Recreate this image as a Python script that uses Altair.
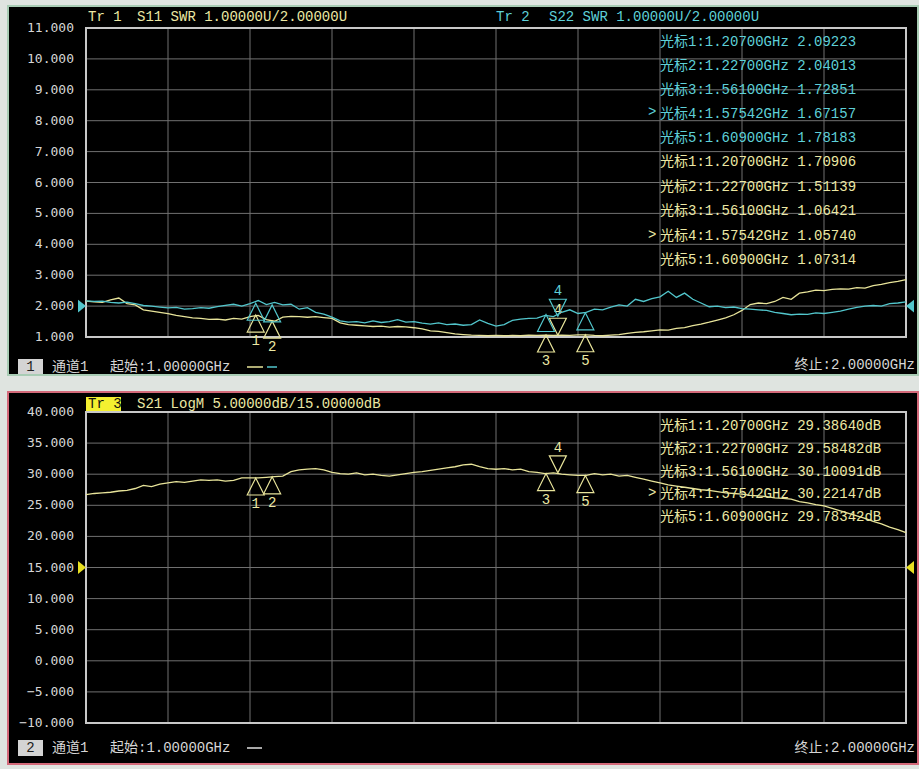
import altair as alt
import pandas as pd

# ---------------- data ----------------
freq = [round(1.0 + 0.01 * i, 2) for i in range(101)]  # sweep points, GHz

s22_swr = [2.17, 2.15, 2.16, 2.12, 2.10, 2.13, 2.08, 2.02, 2.00, 1.97,
           1.94, 1.96, 1.90, 1.92, 1.95, 1.93, 1.98, 2.02, 2.06, 2.00,
           2.08, 2.18, 2.05, 2.12, 2.04, 2.06, 1.90, 1.95, 1.80, 1.74,
           1.64, 1.52, 1.48, 1.50, 1.46, 1.52, 1.47, 1.50, 1.56, 1.48,
           1.50, 1.45, 1.42, 1.46, 1.40, 1.42, 1.38, 1.40, 1.55, 1.44,
           1.35, 1.40, 1.54, 1.58, 1.60, 1.61, 1.70, 1.66, 1.80, 1.88,
           1.76, 1.80, 1.90, 1.88, 1.97, 2.04, 2.00, 2.22, 2.15, 2.24,
           2.30, 2.48, 2.28, 2.42, 2.22, 2.10, 1.98, 2.00, 1.95, 1.97,
           1.92, 1.90, 1.88, 1.86, 1.80, 1.76, 1.72, 1.74, 1.73, 1.78,
           1.76, 1.80, 1.84, 1.90, 1.96, 2.00, 2.02, 2.00, 2.08, 2.10,
           2.14]

s11_swr = [2.16, 2.14, 2.12, 2.20, 2.26, 2.08, 2.04, 1.88, 1.84, 1.80,
           1.76, 1.70, 1.66, 1.62, 1.60, 1.57, 1.58, 1.55, 1.60, 1.58,
           1.66, 1.70, 1.56, 1.51, 1.64, 1.67, 1.66, 1.64, 1.66, 1.63,
           1.60, 1.46, 1.40, 1.38, 1.36, 1.34, 1.35, 1.32, 1.34, 1.33,
           1.30, 1.26, 1.20, 1.18, 1.14, 1.10, 1.08, 1.06, 1.05, 1.04,
           1.05, 1.04, 1.05, 1.04, 1.06, 1.05, 1.06, 1.05, 1.06, 1.05,
           1.07, 1.07, 1.05, 1.04, 1.06, 1.08, 1.12, 1.15, 1.17, 1.20,
           1.23, 1.22, 1.28, 1.30, 1.37, 1.42, 1.48, 1.55, 1.62, 1.72,
           1.86, 2.05, 2.10, 2.08, 2.15, 2.28, 2.22, 2.42, 2.46, 2.52,
           2.50, 2.54, 2.56, 2.55, 2.60, 2.58, 2.66, 2.70, 2.76, 2.80,
           2.86]

s21_db = [26.7, 26.9, 27.0, 27.1, 27.3, 27.4, 27.7, 28.2, 28.0, 28.4,
          28.6, 28.8, 28.7, 28.9, 29.1, 29.0, 29.1, 28.9, 29.0, 29.4,
          29.4, 29.4, 29.5, 29.6, 29.7, 30.4, 30.7, 30.8, 30.9, 30.7,
          30.3, 30.1, 30.0, 30.2, 29.9, 30.0, 29.8, 29.7, 29.9, 30.1,
          30.3, 30.4, 30.6, 30.8, 31.0, 31.2, 31.5, 31.6, 31.2, 30.9,
          30.8, 30.9, 30.7, 30.8, 30.4, 30.3, 30.1, 30.2, 30.0, 29.9,
          29.8, 29.8, 30.1, 29.9, 30.0, 29.7, 29.8, 29.5, 29.2, 28.9,
          28.6, 28.3, 28.1, 27.9, 27.7, 27.5, 27.4, 27.2, 27.0, 26.9,
          26.8, 26.6, 26.5, 26.4, 26.2, 26.1, 26.0, 25.6, 25.4, 25.1,
          24.9, 24.5, 24.1, 23.7, 23.3, 22.9, 22.4, 22.0, 21.5, 21.1,
          20.6]

marker_no = [1, 2, 3, 4, 5]
marker_f = [1.207, 1.227, 1.561, 1.57542, 1.609]
marker_s22 = [2.09223, 2.04013, 1.72851, 1.67157, 1.78183]
marker_s11 = [1.70906, 1.51139, 1.06421, 1.05740, 1.07314]
marker_s21 = [29.38640, 29.58482, 30.10091, 30.22147, 29.78342]
active_marker = 4

swr_ticks = [1, 2, 3, 4, 5, 6, 7, 8, 9, 10, 11]
db_ticks = [-10, -5, 0, 5, 10, 15, 20, 25, 30, 35, 40]
freq_grid = [1.1, 1.2, 1.3, 1.4, 1.5, 1.6, 1.7, 1.8, 1.9]
swr_ref_level = [2.0]
db_ref_level = [15.0]

tr1_tag, tr1_title = "Tr 1", "S11 SWR 1.00000U/2.00000U"
tr2_tag, tr2_title = "Tr 2", "S22 SWR 1.00000U/2.00000U"
tr3_tag, tr3_title = "Tr 3", "S21 LogM 5.00000dB/15.00000dB"
channel_ids = ["1", "2"]
channel_name = "通道1"
start_text = "起始:1.00000GHz"
stop_text = "终止:2.00000GHz"

# ---------------- styling ----------------
W, H1, H2 = 820, 309, 311
YEL = "#e8e49a"
CYN = "#52c6cc"
YEL_T = "#ece8a4"
CYN_T = "#5ed0d8"
GRID = "#707070"
BORDER = "#c8c8c8"
TXT = "#d6d6d6"
MONO = "Liberation Mono, Noto Sans CJK SC"
AXF = "DejaVu Sans Mono"
UP = "M0,0L-0.5,1L0.5,1Z"
DOWN = "M0,0L-0.5,-1L0.5,-1Z"
REF_R = "M0,0L-1,-0.8L-1,0.8Z"
REF_L = "M0,0L1,-0.8L1,0.8Z"
MK_SIZE = 1156

trace = pd.DataFrame({"f": freq, "s11": s11_swr, "s22": s22_swr, "s21": s21_db})
mk = pd.DataFrame({"n": marker_no, "f": marker_f, "s22": marker_s22,
                   "s11": marker_s11, "s21": marker_s21})
mk["act"] = mk["n"] == active_marker
one = pd.DataFrame({"k": [0]})

xs = alt.Scale(domain=[1.0, 2.0], nice=False, zero=False)
ys1 = alt.Scale(domain=[1, 11], nice=False, zero=False)
ys2 = alt.Scale(domain=[-10, 40], nice=False, zero=False)


def X(field="f"):
    return alt.X(f"{field}:Q", scale=xs, axis=None)


def Yn(field, sc):
    return alt.Y(f"{field}:Q", scale=sc, axis=None)


def txt(text, x, y, color, size=14, align="left", baseline="middle", font=MONO, **kw):
    return alt.Chart(one).mark_text(text=text, align=align, baseline=baseline, font=font,
                                    fontSize=size, color=color, **kw).encode(
        x=alt.value(x), y=alt.value(y))


def box(x, x2, y, y2, **kw):
    return alt.Chart(one).mark_rect(**kw).encode(
        x=alt.value(x), x2=alt.value(x2), y=alt.value(y), y2=alt.value(y2))


def hline(x, x2, y, color, w=1.5):
    return alt.Chart(one).mark_rule(color=color, strokeWidth=w).encode(
        x=alt.value(x), x2=alt.value(x2), y=alt.value(y))


def panel_grid(ticks, sc, H):
    tdf = pd.DataFrame({"v": ticks})
    gy = alt.Chart(tdf).mark_rule(color=GRID, strokeWidth=1).encode(
        y=Yn("v", sc), x=alt.value(0), x2=alt.value(W))
    gx = alt.Chart(pd.DataFrame({"f": freq_grid})).mark_rule(color=GRID, strokeWidth=1).encode(
        x=X(), y=alt.value(0), y2=alt.value(H))
    labels = alt.Chart(tdf).transform_calculate(
        lab="format(datum.v, '.3f')"
    ).mark_text(align="right", baseline="middle", dx=-12, font=AXF, fontSize=13, color=TXT).encode(
        x=alt.value(0), y=Yn("v", sc), text="lab:N")
    return gy, gx, labels


def readout(vals, unit):
    return [f"光标{n}:{f:.5f}GHz {v:.5f}{unit}" for n, f, v in zip(marker_no, marker_f, vals)]


mk_in = alt.Chart(mk).transform_filter("!datum.act")
mk_ac = alt.Chart(mk).transform_filter("datum.act")


def markers(field, sc, color, tcolor, label_up=True, label_down=True):
    out = [
        mk_in.mark_point(shape=UP, size=MK_SIZE, filled=False, color=color, strokeWidth=1.2,
                         opacity=1).encode(x=X(), y=Yn(field, sc)),
        mk_ac.mark_point(shape=DOWN, size=MK_SIZE, filled=False, color=color, strokeWidth=1.2,
                         opacity=1).encode(x=X(), y=Yn(field, sc)),
    ]
    if label_up:
        out.append(mk_in.mark_text(dy=26, color=tcolor, font=MONO, fontSize=14).encode(
            x=X(), y=Yn(field, sc), text="n:N"))
    if label_down:
        out.append(mk_ac.mark_text(dy=-25, color=tcolor, font=MONO, fontSize=14).encode(
            x=X(), y=Yn(field, sc), text="n:N"))
    return out


def ref_marks(level, sc, color):
    a = alt.Chart(pd.DataFrame({"f": [1.0], "v": level})).mark_point(
        shape=REF_R, size=256, filled=True, color=color, opacity=1).encode(x=X(), y=Yn("v", sc))
    b = alt.Chart(pd.DataFrame({"f": [2.0], "v": level})).mark_point(
        shape=REF_L, size=256, filled=True, color=color, opacity=1).encode(x=X(), y=Yn("v", sc))
    return [a, b]


# ---------------- top panel (SWR) ----------------
bg1 = box(-78, W + 12, -22, H1 + 38, color="#000000", stroke="#a8ccb4", strokeWidth=2)
gy1, gx1, lab1 = panel_grid(swr_ticks, ys1, H1)
border1 = box(0, W, 0, H1, fillOpacity=0, stroke=BORDER, strokeWidth=2)

l11 = alt.Chart(trace).mark_line(color=YEL, strokeWidth=1.3).encode(x=X(), y=Yn("s11", ys1))
l22 = alt.Chart(trace).mark_line(color=CYN, strokeWidth=1.3).encode(x=X(), y=Yn("s22", ys1))

top_texts = [
    txt(tr1_tag, 2, -11, YEL_T),
    txt(tr1_title, 51, -11, YEL_T),
    txt(tr2_tag, 410, -11, CYN_T),
    txt(tr2_title, 463, -11, CYN_T),
    txt(readout(marker_s22, ""), 574, 7, CYN_T, baseline="top", lineHeight=24),
    txt(readout(marker_s11, ""), 574, 127, YEL_T, baseline="top", lineHeight=24.5),
    txt(">", 562, 84, CYN_T),
    txt(">", 562, 207, YEL_T),
    box(-68, -43, 331, 346, color="#d4d4d4"),
    txt(channel_ids[0], -55.5, 339, "#202020", align="center"),
    txt(channel_name, -34, 339, TXT),
    txt(start_text, 24, 339, TXT),
    hline(161, 177, 339, YEL),
    hline(181, 191, 339, CYN),
    txt(stop_text, 829, 337, TXT, align="right"),
]

top = alt.layer(
    bg1, gy1, gx1, border1, lab1, *top_texts, l11, l22,
    *markers("s11", ys1, YEL, YEL_T),
    *markers("s22", ys1, CYN, CYN_T, label_up=False),
    *ref_marks(swr_ref_level, ys1, CYN),
).properties(width=W, height=H1)

# ---------------- bottom panel (S21 LogM) ----------------
bg2 = box(-78, W + 12, -20, H2 + 41, color="#000000", stroke="#d46a7a", strokeWidth=2)
gy2, gx2, lab2 = panel_grid(db_ticks, ys2, H2)
border2 = box(0, W, 0, H2, fillOpacity=0, stroke=BORDER, strokeWidth=2)

l21 = alt.Chart(trace).mark_line(color=YEL, strokeWidth=1.3).encode(x=X(), y=Yn("s21", ys2))

bot_texts = [
    box(0, 35, -15, -1, color="#f4f030"),
    txt(tr3_tag, 2, -8, "#101010"),
    txt(tr3_title, 51, -8, YEL_T),
    txt(readout(marker_s21, "dB"), 574, 7, YEL_T, baseline="top", lineHeight=22.75),
    txt(">", 562, 81, YEL_T),
    box(-68, -43, 328, 344, color="#d4d4d4"),
    txt(channel_ids[1], -55.5, 336, "#202020", align="center"),
    txt(channel_name, -34, 336, TXT),
    txt(start_text, 24, 336, TXT),
    hline(161, 176, 336, "#e0e0e0"),
    txt(stop_text, 829, 336, TXT, align="right"),
]

bottom = alt.layer(
    bg2, gy2, gx2, border2, lab2, *bot_texts, l21,
    *markers("s21", ys2, YEL, YEL_T),
    *ref_marks(db_ref_level, ys2, "#e8e020"),
).properties(width=W, height=H2)

chart = alt.vconcat(top, bottom, spacing=15).properties(
    padding={"left": 7, "top": 5, "right": 0, "bottom": 4},
    background="#dfe4e0",
).configure_view(strokeWidth=0)

chart.save("out.html", embed_options={"renderer": "svg", "actions": False})
